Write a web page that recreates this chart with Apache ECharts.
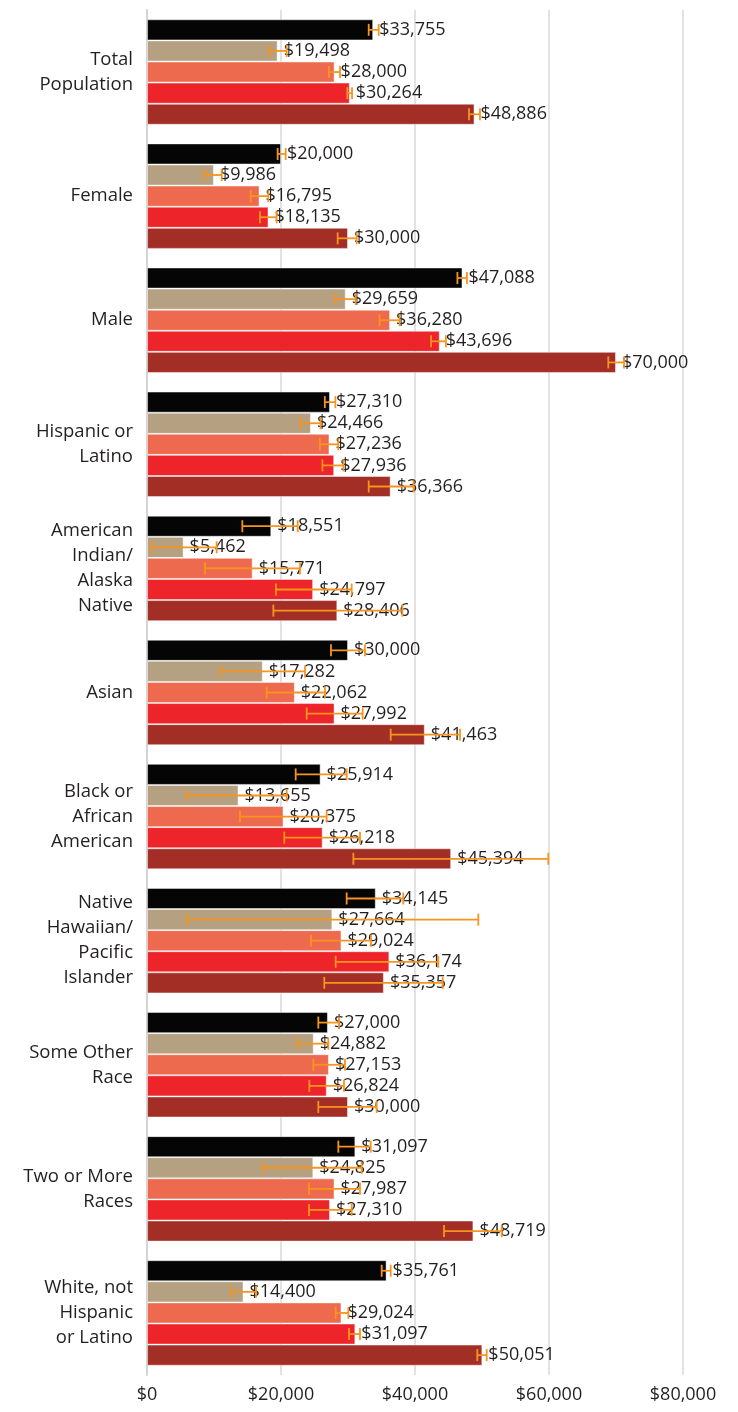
<!DOCTYPE html>
<html>
<head>
<meta charset="utf-8">
<script src="https://cdn.jsdelivr.net/npm/echarts@6/dist/echarts.min.js"></script>
<style>
html,body{margin:0;padding:0;background:#fff;}
#chart{width:738px;height:1412px;}
</style>
</head>
<body>
<div id="chart"></div>
<script>
const categories = ['Total\nPopulation','Female','Male','Hispanic or\nLatino','American\nIndian/\nAlaska\nNative','Asian','Black or\nAfrican\nAmerican','Native\nHawaiian/\nPacific\nIslander','Some Other\nRace','Two or More\nRaces','White, not\nHispanic\nor Latino'];
const xTicks = [0, 20000, 40000, 60000, 80000];
const seriesNames = ['Series 1','Series 2','Series 3','Series 4','Series 5'];
const seriesColors = ['#050505','#b5a081','#ee6a4e','#ed2429','#a32e25'];

const s1 = [33755, 20000, 47088, 27310, 18551, 30000, 25914, 34145, 27000, 31097, 35761];
const s2 = [19498, 9986, 29659, 24466, 5462, 17282, 13655, 27664, 24882, 24825, 14400];
const s3 = [28000, 16795, 36280, 27236, 15771, 22062, 20375, 29024, 27153, 27987, 29024];
const s4 = [30264, 18135, 43696, 27936, 24797, 27992, 26218, 36174, 26824, 27310, 31097];
const s5 = [48886, 30000, 70000, 36366, 28406, 41463, 45394, 35357, 30000, 48719, 50051];

const s1Low  = [33090, 19500, 46330, 26540, 14230, 27460, 22190, 29800, 25570, 28560, 35030];
const s1High = [34580, 20700, 47750, 28120, 22490, 32540, 29800, 38250, 28660, 33390, 36370];
const s2Low  = [18210, 8510, 28120, 22880, 700, 10900, 5920, 5920, 22490, 17260, 12540];
const s2High = [20850, 11150, 31150, 25910, 10400, 23580, 20850, 49450, 27060, 32040, 16270];
const s3Low  = [27160, 15480, 34720, 25800, 8660, 17860, 13880, 24480, 24820, 24180, 28160];
const s3High = [28810, 18100, 37700, 28540, 22840, 26570, 26820, 33430, 29550, 31790, 30050];
const s4Low  = [29900, 16860, 42400, 26180, 19250, 23830, 20490, 28160, 24230, 24180, 30150];
const s4High = [30600, 19350, 44610, 29310, 30550, 32190, 31790, 43480, 29400, 30550, 31790];
const s5Low  = [48060, 28460, 68850, 33090, 18860, 36370, 30800, 26460, 25570, 44330, 49300];
const s5High = [49700, 31290, 71200, 39790, 38110, 46720, 59900, 44130, 34280, 52940, 50700];

const values = [s1, s2, s3, s4, s5];
const lows = [s1Low, s2Low, s3Low, s4Low, s5Low];
const highs = [s1High, s2High, s3High, s4High, s5High];

const FONT = 'Open Sans';
const TEXT = '#231f20';
const CAT_GAP = 0.15;
const N = values.length;

function fmt(v){ return '$' + Number(v).toLocaleString('en-US'); }

const errData = [];
for (let s = 0; s < N; s++) {
  for (let c = 0; c < categories.length; c++) {
    errData.push([c, s, lows[s][c], highs[s][c]]);
  }
}

const barSeries = values.map((vals, i) => ({
  name: seriesNames[i],
  type: 'bar',
  data: vals,
  barGap: '0%',
  barCategoryGap: (CAT_GAP*100) + '%',
  itemStyle: { color: seriesColors[i], borderColor: 'rgba(255,255,255,0.45)', borderWidth: 1 },
  label: {
    show: true, position: 'right', distance: 6,
    formatter: p => fmt(p.value),
    fontFamily: FONT, fontSize: 18, color: TEXT
  },
  z: 2
}));

const errSeries = {
  type: 'custom',
  name: 'error',
  data: errData,
  encode: { x: [2, 3], y: 0 },
  z: 3,
  renderItem: function(params, api) {
    const c = api.value(0), s = api.value(1), lo = api.value(2), hi = api.value(3);
    const band = api.size([0, 1])[1];
    const bw = band * (1 - CAT_GAP) / N;
    const p0 = api.coord([lo, c]);
    const p1 = api.coord([hi, c]);
    const y = p0[1] + (s - (N - 1) / 2) * bw;
    const cap = 6;
    const st = { stroke: '#f7941d', lineWidth: 1.8 };
    return { type: 'group', children: [
      { type: 'line', shape: { x1: p0[0], y1: y, x2: p1[0], y2: y }, style: st },
      { type: 'line', shape: { x1: p0[0], y1: y - cap, x2: p0[0], y2: y + cap }, style: st },
      { type: 'line', shape: { x1: p1[0], y1: y - cap, x2: p1[0], y2: y + cap }, style: st }
    ]};
  }
};

const chart = echarts.init(document.getElementById('chart'), null, { renderer: 'canvas' });
chart.setOption({
  animation: false,
  backgroundColor: '#fff',
  grid: { left: 147, right: 55, top: 10, bottom: 37, containLabel: false },
  xAxis: {
    type: 'value', min: xTicks[0], max: xTicks[xTicks.length - 1], interval: xTicks[1] - xTicks[0],
    axisLine: { show: false }, axisTick: { show: false },
    splitLine: { show: true, lineStyle: { color: '#d9d9d9', width: 1.5 } },
    axisLabel: { formatter: v => fmt(v), fontFamily: FONT, fontSize: 18, color: TEXT, margin: 11 }
  },
  yAxis: {
    type: 'category', data: categories, inverse: true,
    axisLine: { show: true, lineStyle: { color: '#d4d4d4', width: 2 } },
    axisTick: { show: false },
    axisLabel: { fontFamily: FONT, fontSize: 18.5, color: TEXT, margin: 14, lineHeight: 25, align: 'right', padding: [6, 0, 0, 0] }
  },
  series: [...barSeries, errSeries]
});
</script>
</body>
</html>
